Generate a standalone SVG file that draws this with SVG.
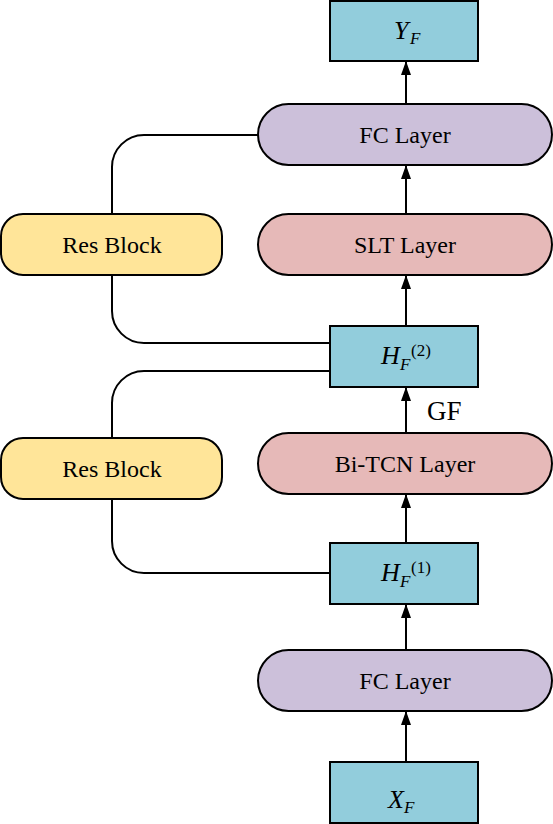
<svg xmlns="http://www.w3.org/2000/svg" width="553" height="824" viewBox="0 0 553 824">
<style>
.box{fill:#92CDDC;stroke:#000;stroke-width:2}
.fc{fill:#CCC0DA;stroke:#000;stroke-width:2}
.slt{fill:#E6B9B8;stroke:#000;stroke-width:2}
.res{fill:#FFE599;stroke:#000;stroke-width:2}
text{font-family:"Liberation Serif","Times New Roman","DejaVu Serif",serif;fill:#000}
.t{font-size:24px}
.m{font-style:italic;font-size:26px}
.sub{font-size:17px}
.sup{font-size:17px;font-style:normal}
.c{fill:none;stroke:#000;stroke-width:2}
.a{fill:none;stroke:#000;stroke-width:2;marker-end:url(#ah)}
</style>
<defs>
<marker id="ah" markerUnits="userSpaceOnUse" markerWidth="14" markerHeight="12" refX="13" refY="5" orient="auto" viewBox="0 0 14 10">
<path d="M0,0 L14,5 L0,10 Z" fill="#000"/>
</marker>
</defs>
<g id="connectors">
<path class="c" d="M258,135 H144 A32,32 0 0 0 112,167 V214"/>
<path class="c" d="M112,275 V311 A32,32 0 0 0 144,343 H330"/>
<path class="c" d="M330,371 H144 A32,32 0 0 0 112,403 V438"/>
<path class="c" d="M112,499 V541 A32,32 0 0 0 144,573 H330"/>
<path class="a" d="M406,104 V62"/>
<path class="a" d="M406,214 V166"/>
<path class="a" d="M406,326 V276"/>
<path class="a" d="M406,433 V388"/>
<path class="a" d="M406,543 V495"/>
<path class="a" d="M406,650 V605"/>
<path class="a" d="M406,762 V712"/>
<text font-family="Liberation Serif, Times New Roman, serif" font-size="27" x="427" y="420">GF</text>
</g>
<g id="yf">
<rect class="box" x="330" y="1" width="148" height="60"/>
<text class="m" font-family="Liberation Serif, Times New Roman, serif" x="394" y="39">Y<tspan class="sub" x="410" y="44">F</tspan></text>
</g>
<g id="fc-top">
<rect class="fc" x="258" y="104" width="294" height="61" rx="30.5"/>
<text class="t" font-family="Liberation Serif, Times New Roman, serif" x="405" y="143" text-anchor="middle">FC Layer</text>
</g>
<g id="res1">
<rect class="res" x="1" y="214" width="221" height="61" rx="22"/>
<text class="t" font-family="Liberation Serif, Times New Roman, serif" x="112" y="253" text-anchor="middle">Res Block</text>
</g>
<g id="slt">
<rect class="slt" x="258" y="214" width="294" height="61" rx="30.5"/>
<text class="t" font-family="Liberation Serif, Times New Roman, serif" x="405" y="253" text-anchor="middle">SLT Layer</text>
</g>
<g id="hf2">
<rect class="box" x="330" y="326" width="148" height="61"/>
<text class="m" font-family="Liberation Serif, Times New Roman, serif" x="381" y="364">H<tspan class="sub" x="400" y="370">F</tspan><tspan class="sup" x="411" y="356">(2)</tspan></text>
</g>
<g id="res2">
<rect class="res" x="1" y="438" width="221" height="61" rx="22"/>
<text class="t" font-family="Liberation Serif, Times New Roman, serif" x="112" y="477" text-anchor="middle">Res Block</text>
</g>
<g id="bitcn">
<rect class="slt" x="258" y="433" width="294" height="61" rx="30.5"/>
<text class="t" font-family="Liberation Serif, Times New Roman, serif" x="405" y="472" text-anchor="middle">Bi-TCN Layer</text>
</g>
<g id="hf1">
<rect class="box" x="330" y="543" width="148" height="61"/>
<text class="m" font-family="Liberation Serif, Times New Roman, serif" x="381" y="581">H<tspan class="sub" x="400" y="587">F</tspan><tspan class="sup" x="411" y="573">(1)</tspan></text>
</g>
<g id="fc-bottom">
<rect class="fc" x="258" y="650" width="294" height="61" rx="30.5"/>
<text class="t" font-family="Liberation Serif, Times New Roman, serif" x="405" y="689" text-anchor="middle">FC Layer</text>
</g>
<g id="xf">
<rect class="box" x="330" y="762" width="148" height="61"/>
<text class="m" font-family="Liberation Serif, Times New Roman, serif" x="388" y="808">X<tspan class="sub" x="404" y="813">F</tspan></text>
</g>
</svg>
